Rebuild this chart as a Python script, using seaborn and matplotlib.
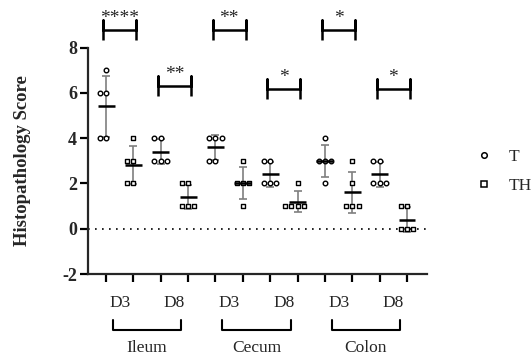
import numpy as np
import pandas as pd
import seaborn as sns
import matplotlib
matplotlib.use("Agg")
import matplotlib.pyplot as plt
from matplotlib.lines import Line2D

# Histopathology scores per tissue, day and treatment (5 animals each)
tissues = ["Ileum", "Cecum", "Colon"]
days = ["D3", "D8"]
treatments = ["T", "TH"]

ileum_d3_t = [7, 6, 6, 4, 4]
ileum_d3_th = [4, 3, 3, 2, 2]
ileum_d8_t = [4, 4, 3, 3, 3]
ileum_d8_th = [2, 2, 1, 1, 1]
cecum_d3_t = [4, 4, 4, 3, 3]
cecum_d3_th = [3, 2, 2, 2, 1]
cecum_d8_t = [3, 3, 2, 2, 2]
cecum_d8_th = [2, 1, 1, 1, 1]
colon_d3_t = [4, 3, 3, 3, 2]
colon_d3_th = [3, 2, 1, 1, 1]
colon_d8_t = [3, 3, 2, 2, 2]
colon_d8_th = [1, 1, 0, 0, 0]

series = [ileum_d3_t, ileum_d3_th, ileum_d8_t, ileum_d8_th,
          cecum_d3_t, cecum_d3_th, cecum_d8_t, cecum_d8_th,
          colon_d3_t, colon_d3_th, colon_d8_t, colon_d8_th]

# significance stars for each T vs TH comparison (ordered tissue/day)
stars = ["****", "**", "**", "*", "*", "*"]
y_ticks = [-2, 0, 2, 4, 6, 8]

rows = []
for i, vals in enumerate(series):
    for v in vals:
        rows.append({"pos": i, "score": v, "treat": treatments[i % 2]})
df = pd.DataFrame(rows)

sns.set_style("ticks")
plt.rcParams["font.family"] = ["Liberation Serif", "DejaVu Serif"]

fig = plt.figure(figsize=(5.31, 3.58), dpi=100)
ax = fig.add_axes([0.1657, 0.2346, 0.6384, 0.6327])

# mean +/- SD
stats = df.groupby("pos")["score"].agg(["mean", "std"]).reset_index()
ax.errorbar(stats["pos"], stats["mean"], yerr=stats["std"], fmt="none",
            ecolor="#7f7f7f", elinewidth=1.2, capsize=3.2, capthick=1.2, zorder=1)

for treat, mk in zip(treatments, ["o", "s"]):
    sub = df[df["treat"] == treat]
    sns.swarmplot(data=sub, x="pos", y="score", native_scale=True, orient="v",
                  marker=mk, color="white", edgecolor="black", linewidth=1.0,
                  size=3.3, ax=ax, zorder=2)

ax.hlines(stats["mean"], stats["pos"] - 0.31, stats["pos"] + 0.31,
          colors="black", linewidth=1.8, zorder=3)

ax.axhline(0, color="black", linewidth=1.2, linestyle=(0, (1, 3.2)), zorder=0)

ax.set_xlim(-0.66, 11.73)
ax.set_ylim(-2, 8)
ax.set_xticks(range(len(series)))
ax.set_xticklabels([])
ax.set_yticks(y_ticks)
ax.set_yticklabels([str(t) for t in y_ticks], fontweight="bold", fontsize=13)
ax.tick_params(axis="both", width=1.6, length=6, color="black")
ax.tick_params(axis="y", pad=2)
for side in ["left", "bottom"]:
    ax.spines[side].set_linewidth(1.6)
sns.despine(ax=ax)
ax.set_xlabel("")
ax.set_ylabel("Histopathology Score", fontweight="bold", fontsize=13.5, labelpad=22)

# significance brackets above each comparison
sig_heights = [8.77, 6.30, 8.77, 6.17, 8.77, 6.17]
for k, (txt, h) in enumerate(zip(stars, sig_heights)):
    c = 2 * k + 0.5
    x0, x1 = c - 0.6, c + 0.6
    ax.plot([x0, x0, x0, x1, x1, x1], [h - 0.45, h + 0.45, h, h, h + 0.45, h - 0.45],
            color="black", linewidth=1.8, clip_on=False, solid_capstyle="butt")
    ax.text(c, h + 0.12, txt, ha="center", va="bottom", fontsize=14, clip_on=False)

# day labels and tissue brackets under the axis
trans = ax.get_xaxis_transform()
for g, tissue in enumerate(tissues):
    for d, day in enumerate(days):
        c = 4 * g + 2 * d + 0.5
        ax.text(c, -0.13, day, transform=trans, ha="center", va="center", fontsize=12.5)
    c = 4 * g + 1.5
    ax.plot([c - 1.25, c - 1.25, c + 1.25, c + 1.25], [-0.203, -0.247, -0.247, -0.203],
            transform=trans, color="black", linewidth=1.5, clip_on=False)
    ax.text(c, -0.325, tissue, transform=trans, ha="center", va="center", fontsize=12.5)

handles = [Line2D([], [], marker="o", linestyle="none", markerfacecolor="white",
                  markeredgecolor="black", markeredgewidth=1.1, markersize=4),
           Line2D([], [], marker="s", linestyle="none", markerfacecolor="white",
                  markeredgecolor="black", markeredgewidth=1.1, markersize=4)]
fig.legend(handles, treatments, loc="upper left", bbox_to_anchor=(0.895, 0.584),
           frameon=False, fontsize=12.5, handlelength=1.0, handletextpad=0.9,
           labelspacing=0.74, borderpad=0, borderaxespad=0)

fig.savefig("out.png", dpi=100)
